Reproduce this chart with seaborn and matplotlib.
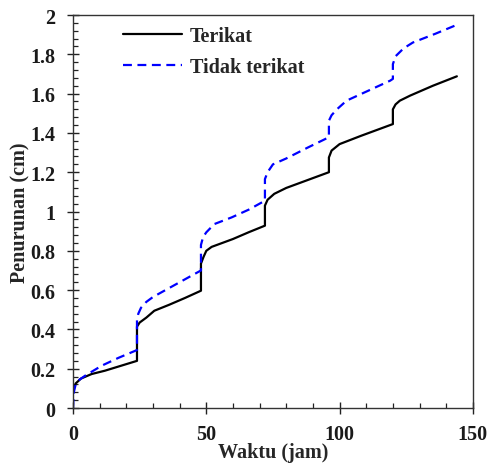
import numpy as np
import pandas as pd
import matplotlib
matplotlib.use("Agg")
import matplotlib.pyplot as plt
import seaborn as sns
from matplotlib.ticker import MultipleLocator

# Data (time in hours, settlement in cm)
t_terikat = [0, 1, 3, 7, 12, 18, 24, 24, 25, 27.5, 30.5, 36, 42, 48, 48, 49, 50, 52, 55, 60, 66, 72,
             72, 73, 75.5, 80, 88, 96, 96, 97, 100, 108, 114, 120, 120, 121, 122.6, 126.5, 135, 144]
y_terikat = [0.09, 0.125, 0.15, 0.173, 0.19, 0.215, 0.24, 0.414, 0.435, 0.46, 0.495, 0.525, 0.56, 0.597,
             0.735, 0.77, 0.80, 0.82, 0.835, 0.86, 0.895, 0.928, 1.03, 1.06, 1.09, 1.12, 1.16, 1.20,
             1.275, 1.31, 1.343, 1.385, 1.415, 1.445, 1.52, 1.545, 1.564, 1.59, 1.64, 1.688]

t_tidak = [0, 0.3, 1, 2.5, 4.5, 10.7, 17, 24, 24, 24.5, 25.5, 27.5, 30, 36, 42, 48, 48, 48.8, 50, 53,
           59.5, 66, 72, 72, 73, 75, 80, 88, 96, 96, 97, 99, 102.6, 110, 119, 120, 120, 121, 124,
           127.5, 136, 144]
y_tidak = [0, 0.08, 0.12, 0.145, 0.164, 0.215, 0.255, 0.295, 0.45, 0.48, 0.51, 0.54, 0.565, 0.61, 0.655,
           0.70, 0.83, 0.87, 0.894, 0.936, 0.97, 1.01, 1.055, 1.165, 1.20, 1.24, 1.27, 1.325, 1.378,
           1.462, 1.49, 1.52, 1.564, 1.61, 1.666, 1.675, 1.75, 1.79, 1.83, 1.86, 1.905, 1.95]

labels = ["Terikat", "Tidak terikat"]
x_label = "Waktu (jam)"
y_label = "Penurunan (cm)"
x_ticks = [0, 50, 100, 150]
y_ticks = [0, 0.2, 0.4, 0.6, 0.8, 1, 1.2, 1.4, 1.6, 1.8, 2]
y_ticklabels = ["0", "0.2", "0.4", "0.6", "0.8", "1", "1.2", "1.4", "1.6", "1.8", "2"]

df = pd.concat([
    pd.DataFrame({"t": t_terikat, "y": y_terikat, "seri": labels[0]}),
    pd.DataFrame({"t": t_tidak, "y": y_tidak, "seri": labels[1]}),
], ignore_index=True)

sns.set_style("white")
plt.rcParams["font.family"] = ["Liberation Serif", "DejaVu Serif"]
plt.rcParams["font.weight"] = "bold"

FS = 14.5
fig = plt.figure(figsize=(4.9, 4.64), dpi=100)
ax = fig.add_axes([0.149, 0.1185, 0.816, 0.847])

sns.lineplot(data=df, x="t", y="y", hue="seri", style="seri",
             palette={labels[0]: "black", labels[1]: "#0000ff"},
             dashes={labels[0]: "", labels[1]: (4, 2.5)},
             estimator=None, sort=False, units="seri", linewidth=1.6, ax=ax)

ax.set_xlim(0, 150)
ax.set_ylim(0, 2)
ax.set_xticks(x_ticks)
ax.set_xticklabels([str(v) for v in x_ticks])
ax.set_yticks(y_ticks)
ax.set_yticklabels(y_ticklabels)
ax.xaxis.set_minor_locator(MultipleLocator(10))
ax.yaxis.set_minor_locator(MultipleLocator(0.04))

ax.tick_params(which="both", bottom=True, left=True, top=False, right=False)
ax.tick_params(which="major", direction="inout", length=9, width=1, pad=8.0,
               labelsize=FS, color="#222222", labelcolor="#1a1a1a")
ax.tick_params(which="minor", direction="in", length=3.3, width=0.9, color="#222222")
ax.tick_params(axis="x", which="major", pad=7.0)
for lab in ax.get_xticklabels() + ax.get_yticklabels():
    lab.set_fontweight("bold")

for s in ax.spines.values():
    s.set_visible(True)
    s.set_color("#333333")
    s.set_linewidth(1.0)

ax.set_xlabel(x_label, fontsize=FS, fontweight="bold", labelpad=-1.5)
ax.set_ylabel(y_label, fontsize=FS, fontweight="bold", labelpad=0)

leg = ax.legend(loc="upper left", bbox_to_anchor=(0.08, 1.018), frameon=False,
                fontsize=FS, handlelength=2.9, labelspacing=0.55, handletextpad=0.4)
for txt in leg.get_texts():
    txt.set_fontweight("bold")

fig.savefig("out.png", dpi=100)
